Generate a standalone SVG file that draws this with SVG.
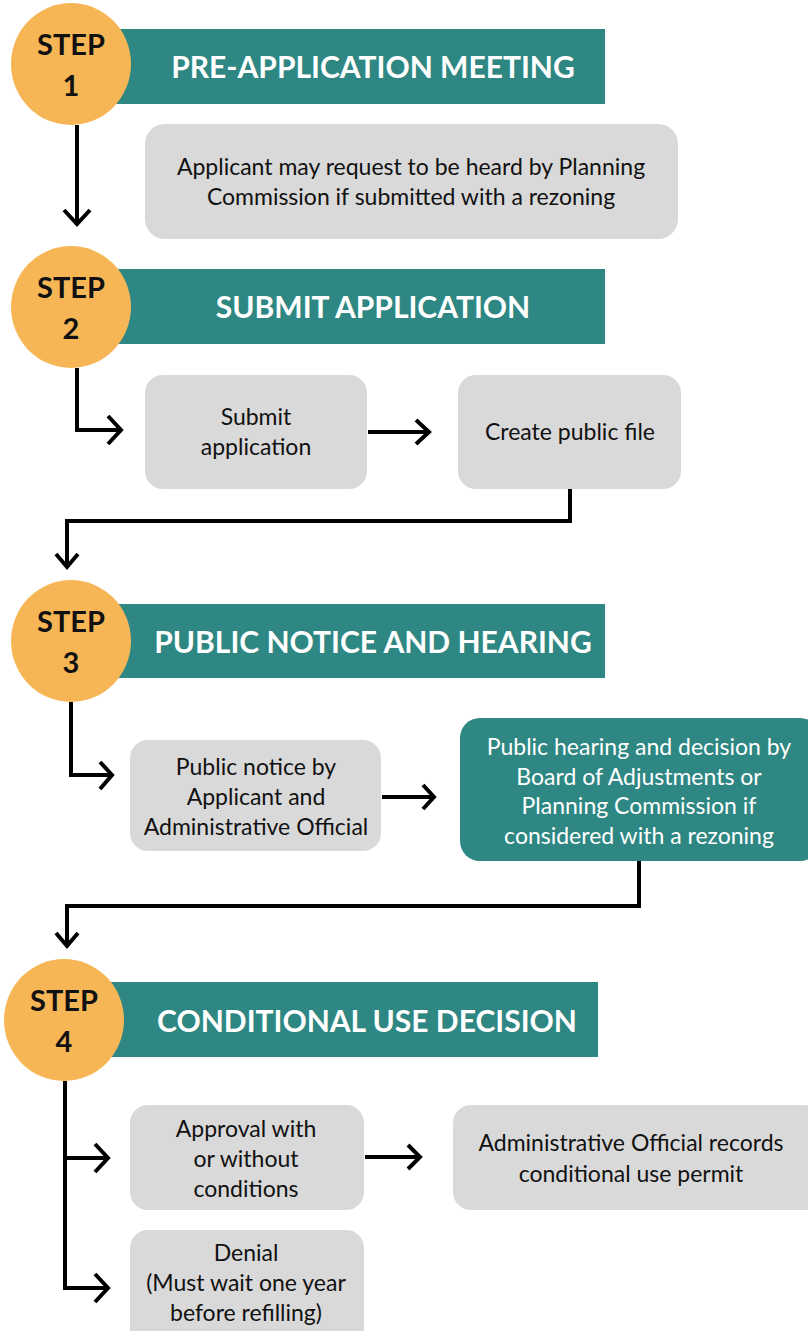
<svg xmlns="http://www.w3.org/2000/svg" width="808" height="1331" viewBox="0 0 808 1331">
<defs>
<style>
.bar{fill:#2e8783}
.circ{fill:#f7b656}
.box{fill:#d9d9d9}
.tbox{fill:#2e8783}
.step{font-family:Lato,"Open Sans",sans-serif;font-weight:bold;font-size:29px;fill:#111;text-anchor:middle}
.head{font-family:Lato,"Open Sans",sans-serif;font-weight:bold;font-size:30px;fill:#fff;text-anchor:middle}
.txt{font-family:Lato,"Open Sans",sans-serif;font-size:23px;fill:#111;text-anchor:middle}
.wtxt{font-family:Lato,"Open Sans",sans-serif;font-size:23px;fill:#fff;text-anchor:middle}
.ln{fill:none;stroke:#000;stroke-width:4}
</style>
</defs>
<g id="step1">
<rect class="bar" x="110" y="29" width="495" height="75"/>
<ellipse class="circ" cx="71" cy="64" rx="60" ry="61"/>
<text class="step" x="71" y="55">STEP</text>
<text class="step" x="71" y="96">1</text>
<text class="head" x="373" y="78">PRE-APPLICATION MEETING</text>
</g>
<g id="box1">
<rect class="box" x="145" y="124" width="533" height="115" rx="20"/>
<text class="txt" x="411" y="175">Applicant may request to be heard by Planning</text>
<text class="txt" x="411" y="205">Commission if submitted with a rezoning</text>
</g>
<g id="step2">
<rect class="bar" x="110" y="269" width="495" height="75"/>
<ellipse class="circ" cx="71" cy="307" rx="60" ry="61"/>
<text class="step" x="71" y="298">STEP</text>
<text class="step" x="71" y="339">2</text>
<text class="head" x="373" y="318">SUBMIT APPLICATION</text>
</g>
<g id="submit">
<rect class="box" x="145" y="375" width="222" height="114" rx="18"/>
<text class="txt" x="256" y="425">Submit</text>
<text class="txt" x="256" y="455">application</text>
</g>
<g id="publicfile">
<rect class="box" x="458" y="375" width="223" height="114" rx="18"/>
<text class="txt" x="570" y="440">Create public file</text>
</g>
<g id="step3">
<rect class="bar" x="110" y="604" width="495" height="74"/>
<ellipse class="circ" cx="71" cy="641" rx="60" ry="61"/>
<text class="step" x="71" y="632">STEP</text>
<text class="step" x="71" y="673">3</text>
<text class="head" x="373" y="653">PUBLIC NOTICE AND HEARING</text>
</g>
<g id="notice">
<rect class="box" x="130" y="740" width="251" height="111" rx="18"/>
<text class="txt" x="256" y="775">Public notice by</text>
<text class="txt" x="256" y="805">Applicant and</text>
<text class="txt" x="256" y="835">Administrative Official</text>
</g>
<g id="hearing">
<rect class="tbox" x="460" y="718" width="360" height="143" rx="20"/>
<text class="wtxt" x="639" y="755">Public hearing and decision by</text>
<text class="wtxt" x="639" y="785">Board of Adjustments or</text>
<text class="wtxt" x="639" y="814">Planning Commission if</text>
<text class="wtxt" x="639" y="844">considered with a rezoning</text>
</g>
<g id="step4">
<rect class="bar" x="110" y="982" width="488" height="75"/>
<ellipse class="circ" cx="64" cy="1020" rx="60" ry="61"/>
<text class="step" x="64" y="1011">STEP</text>
<text class="step" x="64" y="1052">4</text>
<text class="head" x="367" y="1032">CONDITIONAL USE DECISION</text>
</g>
<g id="approval">
<rect class="box" x="130" y="1105" width="234" height="105" rx="18"/>
<text class="txt" x="246" y="1137">Approval with</text>
<text class="txt" x="246" y="1167">or without</text>
<text class="txt" x="246" y="1197">conditions</text>
</g>
<g id="records">
<rect class="box" x="453" y="1105" width="370" height="105" rx="18"/>
<text class="txt" x="631" y="1151">Administrative Official records</text>
<text class="txt" x="631" y="1182">conditional use permit</text>
</g>
<g id="denial">
<rect class="box" x="130" y="1230" width="234" height="120" rx="18"/>
<text class="txt" x="246" y="1261">Denial</text>
<text class="txt" x="246" y="1291">(Must wait one year</text>
<text class="txt" x="246" y="1321">before refilling)</text>
</g>
<g id="connectors">
<path class="ln" d="M77 125V224"/>
<path class="ln" d="M64 210L77 224L90 210"/>
<path class="ln" d="M77 368V430H119"/>
<path class="ln" d="M108 416L121 430L108 444"/>
<path class="ln" d="M368 432H428"/>
<path class="ln" d="M416 420L429 432L416 444"/>
<path class="ln" d="M570 489V521H67V567"/>
<path class="ln" d="M56 554L67 567L78 554"/>
<path class="ln" d="M71 702V775H112"/>
<path class="ln" d="M100 762L112 775L100 789"/>
<path class="ln" d="M382 797H434"/>
<path class="ln" d="M423 785L434 797L423 809"/>
<path class="ln" d="M639 861V906H67V946"/>
<path class="ln" d="M56 933L67 946L78 933"/>
<path class="ln" d="M65 1081V1288H107"/>
<path class="ln" d="M65 1158H107"/>
<path class="ln" d="M95 1144L108 1158L95 1172"/>
<path class="ln" d="M95 1274L108 1288L95 1302"/>
<path class="ln" d="M365 1157H419"/>
<path class="ln" d="M408 1145L420 1157L408 1169"/>
</g>
</svg>
